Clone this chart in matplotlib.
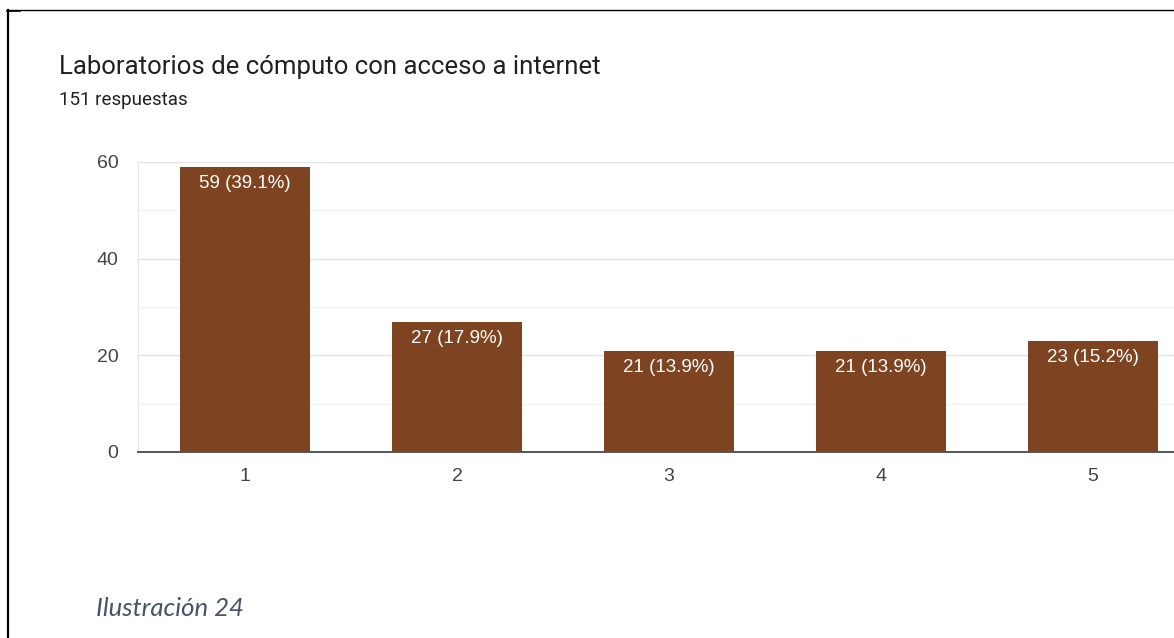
import matplotlib.pyplot as plt
from matplotlib.lines import Line2D

# survey answers (scale 1-5)
categories = ["1", "2", "3", "4", "5"]
counts = [59, 27, 21, 21, 23]
total = 151
bar_labels = [f"{c} ({c / total * 100:.1f}%)" for c in counts]

title = "Laboratorios de cómputo con acceso a internet"
subtitle = f"{total} respuestas"
caption = "Ilustración 24"

W, H = 1174, 638
fig = plt.figure(figsize=(W / 100, H / 100), dpi=100)
fig.patch.set_facecolor("white")

# page border (left + top) from the document crop
fig.add_artist(Line2D([7.5 / W, 7.5 / W], [0, 1 - 10 / H], color="black", lw=1.6))
fig.add_artist(Line2D([7 / W, 1], [1 - 9.5 / H, 1 - 9.5 / H], color="black", lw=1.0))
fig.add_artist(Line2D([7 / W, 20 / W], [1 - 11 / H, 1 - 11 / H], color="black", lw=1.2))

# axes run past the right edge like the original screenshot
ax = fig.add_axes([138 / W, 186 / H, (1199 - 138) / W, (452 - 162) / H])
x = range(1, len(categories) + 1)
bars = ax.bar(x, counts, width=0.615, color="#7e4320", zorder=3)

ax.set_xlim(0.495, 5.5)
ax.set_ylim(0, 60)
ax.set_yticks([0, 20, 40, 60])
ax.set_yticks([10, 30, 50], minor=True)
ax.set_xticks(list(x))
ax.set_xticklabels(categories)
ax.grid(axis="y", which="major", color="#e4e4e4", lw=1.0, zorder=0)
ax.grid(axis="y", which="minor", color="#f2f2f2", lw=1.0, zorder=0)
ax.tick_params(axis="both", which="both", length=0, labelsize=14, colors="#444444",
               labelfontfamily="Liberation Sans")
ax.tick_params(axis="y", pad=14)
ax.tick_params(axis="x", pad=11.5)

for s in ["top", "right"]:
    ax.spines[s].set_visible(False)
ax.spines["left"].set_color("#e6e6e6")
ax.spines["bottom"].set_color("#555555")
ax.spines["bottom"].set_linewidth(1.4)
ax.spines["bottom"].set_zorder(4)

for b, lab in zip(bars, bar_labels):
    ax.annotate(lab, (b.get_x() + b.get_width() / 2, b.get_height()),
                xytext=(0, -6), textcoords="offset points", ha="center", va="top",
                color="white", fontsize=13.5, family="Liberation Sans", zorder=5)

fig.text(59 / W, 1 - 67 / H, title, fontsize=18.5, family="Roboto",
         color="#202124", va="center", ha="left")
fig.text(59 / W, 1 - 100 / H, subtitle, fontsize=13.5, family="Roboto",
         color="#202124", va="center", ha="left")
fig.text(96 / W, 1 - 608 / H, caption, fontsize=18.5, family="Lato", style="italic",
         color="#44546a", va="center", ha="left")

fig.savefig("out.png", dpi=100, facecolor="white")
